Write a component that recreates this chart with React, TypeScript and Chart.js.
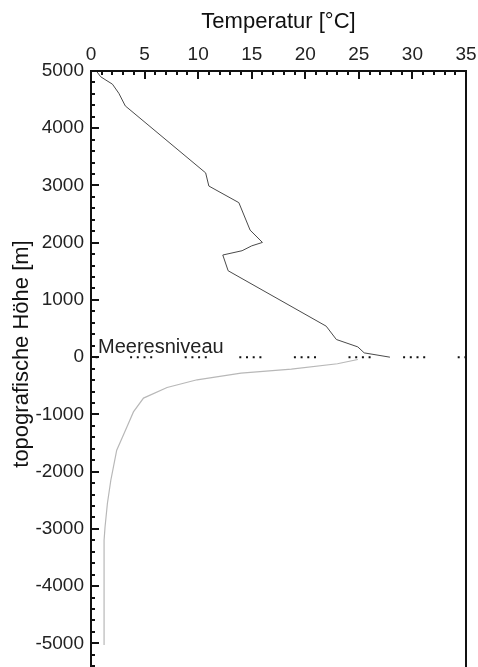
import React, { useEffect, useRef } from 'react';
import { Chart, registerables } from 'chart.js';

Chart.register(...registerables);

// Air temperature profile above sea level
const airTemp = [0.5, 0.9, 1.4, 2.0, 2.6, 3.2, 10.7, 11.0, 13.8, 14.85, 16.0, 15.0, 14.1, 12.3, 12.8, 21.95, 22.9, 24.9, 25.5, 27.9];
const airHeight = [5000, 4900, 4840, 4770, 4610, 4390, 3220, 2990, 2700, 2220, 2005, 1945, 1860, 1785, 1510, 542, 309, 180, 75, 0];

// Ocean temperature profile below sea level
const seaTemp = [24.9, 23.0, 18.7, 14.0, 9.9, 7.1, 4.9, 3.96, 3.35, 2.88, 2.4, 1.85, 1.53, 1.31, 1.22, 1.22];
const seaDepth = [-40, -115, -210, -280, -395, -530, -715, -956, -1218, -1421, -1625, -2150, -2557, -2966, -3200, -5030];

// Sea level reference line
const seaLevelTemp = [0, 35];
const seaLevelHeight = [0, 0];

const xMin = 0;
const xMax = 35;
const xStep = 5;
const xMinorStep = 1;
const yMin = -6000;
const yMax = 5000;
const yStep = 1000;
const yMinorStep = 200;

const xTitle = 'Temperatur [°C]';
const yTitle = 'topografische Höhe [m]';
const seaLevelLabel = 'Meeresniveau';

const FONT = "Arial, 'Liberation Sans', sans-serif";

const pairs = (xs: number[], ys: number[]) => xs.map((x, i) => ({ x, y: ys[i] }));

const framePlugin = {
  id: 'frame',
  afterDraw(chart: any) {
    const { ctx, chartArea } = chart;
    const xs = chart.scales.x;
    const ys = chart.scales.y;
    ctx.save();
    ctx.strokeStyle = '#111';
    ctx.fillStyle = '#111';

    // right frame edge
    ctx.lineWidth = 2;
    ctx.beginPath();
    ctx.moveTo(chartArea.right, chartArea.top - 1);
    ctx.lineTo(chartArea.right, chartArea.bottom);
    ctx.stroke();

    // inward ticks on the top axis
    for (let v = xMin; v <= xMax; v += xMinorStep) {
      const px = Math.round(xs.getPixelForValue(v));
      const len = v % xStep === 0 ? 8 : 4;
      ctx.beginPath();
      ctx.moveTo(px, chartArea.top);
      ctx.lineTo(px, chartArea.top + len);
      ctx.stroke();
    }

    // inward ticks on the left axis
    for (let v = yMin; v <= yMax; v += yMinorStep) {
      const py = Math.round(ys.getPixelForValue(v));
      const len = v % yStep === 0 ? 8 : 4;
      ctx.beginPath();
      ctx.moveTo(chartArea.left, py);
      ctx.lineTo(chartArea.left + len, py);
      ctx.stroke();
    }

    // sea level caption
    ctx.font = `20px ${FONT}`;
    ctx.fillStyle = '#222';
    ctx.textAlign = 'left';
    ctx.textBaseline = 'alphabetic';
    ctx.fillText(seaLevelLabel, xs.getPixelForValue(0) + 7, ys.getPixelForValue(0) - 4);

    // vertical axis title
    ctx.font = `22px ${FONT}`;
    ctx.fillStyle = '#111';
    ctx.textAlign = 'center';
    ctx.textBaseline = 'middle';
    ctx.translate(22, 354);
    ctx.rotate(-Math.PI / 2);
    ctx.fillText(yTitle, 0, 0);
    ctx.restore();
  },
};

export default function App() {
  const canvasRef = useRef<HTMLCanvasElement | null>(null);

  useEffect(() => {
    const canvas = canvasRef.current;
    if (!canvas) return;
    const chart = new Chart(canvas, {
      type: 'line',
      data: {
        datasets: [
          {
            label: seaLevelLabel,
            data: pairs(seaLevelTemp, seaLevelHeight),
            borderColor: '#111',
            borderWidth: 2,
            borderDash: [2, 4.7, 2, 4.7, 2, 4.7, 2, 32.5],
            borderDashOffset: 15.5,
            borderCapStyle: 'butt',
            pointRadius: 0,
            tension: 0,
          },
          {
            label: 'Luft',
            data: pairs(airTemp, airHeight),
            borderColor: '#4a4a4a',
            borderWidth: 1,
            pointRadius: 0,
            tension: 0,
          },
          {
            label: 'Ozean',
            data: pairs(seaTemp, seaDepth),
            borderColor: '#b8b8b8',
            borderWidth: 1.2,
            pointRadius: 0,
            tension: 0,
          },
        ],
      },
      options: {
        responsive: false,
        animation: false,
        events: [],
        layout: { padding: { left: 0, right: 12, top: 0, bottom: 0 } },
        plugins: {
          legend: { display: false },
          tooltip: { enabled: false },
        },
        scales: {
          x: {
            type: 'linear',
            position: 'top',
            min: xMin,
            max: xMax,
            grid: { display: false, drawTicks: true, tickLength: 5 },
            border: { display: true, color: '#111', width: 2 },
            ticks: {
              stepSize: xStep,
              padding: 0,
              color: '#222',
              font: { family: FONT, size: 19 },
              maxRotation: 0,
              callback: (v: any) => String(v),
            },
            title: {
              display: true,
              text: xTitle,
              color: '#111',
              font: { family: FONT, size: 22 },
              padding: { top: 9, bottom: 0 },
            },
            afterFit(scale: any) {
              scale.height = 71;
            },
          },
          y: {
            type: 'linear',
            min: yMin,
            max: yMax,
            grid: { display: false, drawTicks: true, tickLength: 7 },
            border: { display: true, color: '#111', width: 2 },
            ticks: {
              stepSize: yStep,
              padding: 0,
              color: '#222',
              font: { family: FONT, size: 19 },
              callback: (v: any) => String(v),
            },
            afterFit(scale: any) {
              scale.width = 91;
            },
          },
        },
      },
      plugins: [framePlugin],
    });
    return () => chart.destroy();
  }, []);

  return (
    <div style={{ position: 'absolute', left: 0, top: 0, width: 478, height: 667, overflow: 'hidden', background: '#fff' }}>
      <canvas ref={canvasRef} width={478} height={712} style={{ display: 'block' }} />
    </div>
  );
}
